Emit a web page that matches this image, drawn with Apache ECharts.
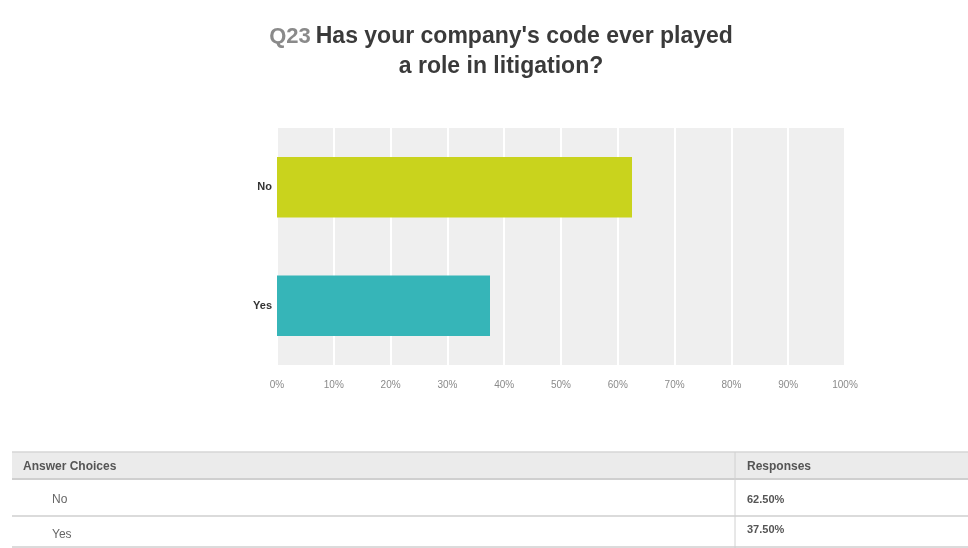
<!DOCTYPE html>
<html>
<head>
<meta charset="utf-8">
<script src="https://cdn.jsdelivr.net/npm/echarts@6/dist/echarts.min.js"></script>
<style>
  html, body { margin: 0; padding: 0; background: #ffffff; }
  #chart { width: 968px; height: 548px; }
</style>
</head>
<body>
<div id="chart"></div>
<script>
// Survey question and answers
const questionNumber = 'Q23';
const questionLines = ["Has your company's code ever played", 'a role in litigation?'];
const answerChoices = ['No', 'Yes'];
const responsePercents = [62.5, 37.5];
const answerColors = ['#c9d31d', '#36b5b8'];
const tableHeaders = ['Answer Choices', 'Responses'];

const FONT = 'Liberation Sans, Arial, sans-serif';

// Table rows beneath the chart
function buildTable() {
  const els = [];
  const left = 12, right = 968, divider = 735;
  const headerTop = 452, headerBottom = 479;
  const rowBottoms = [516, 547];
  els.push({ type: 'rect', shape: { x: left, y: headerTop, width: right - left, height: headerBottom - headerTop },
    style: { fill: '#ebebeb' } });
  const hLines = [headerTop, headerBottom].concat(rowBottoms);
  hLines.forEach(function (y, i) {
    els.push({ type: 'line', shape: { x1: left, y1: y, x2: right, y2: y },
      style: { stroke: i === 0 ? '#d6d6d6' : '#cfcfcf', lineWidth: i === 1 ? 2 : 1.5 } });
  });
  els.push({ type: 'line', shape: { x1: divider, y1: headerTop, x2: divider, y2: 548 },
    style: { stroke: '#d0d0d0', lineWidth: 1 } });
  els.push({ type: 'text', x: 23, y: (headerTop + headerBottom) / 2 + 1,
    style: { text: tableHeaders[0], font: 'bold 12px ' + FONT, fill: '#555', textVerticalAlign: 'middle' } });
  els.push({ type: 'text', x: 747, y: (headerTop + headerBottom) / 2 + 1,
    style: { text: tableHeaders[1], font: 'bold 12px ' + FONT, fill: '#555', textVerticalAlign: 'middle' } });
  const textY = [[500, 500], [535, 530]];
  answerChoices.forEach(function (name, i) {
    els.push({ type: 'text', x: 52, y: textY[i][0],
      style: { text: name, font: '12px ' + FONT, fill: '#666', textVerticalAlign: 'middle' } });
    els.push({ type: 'text', x: 747, y: textY[i][1],
      style: { text: responsePercents[i].toFixed(2) + '%', font: 'bold 11px ' + FONT, fill: '#555', textVerticalAlign: 'middle' } });
  });
  return els;
}

const chart = echarts.init(document.getElementById('chart'));
chart.setOption({
  backgroundColor: '#ffffff',
  animation: false,
  title: {
    left: 496,
    top: 17,
    textAlign: 'center',
    text: '{q|' + questionNumber + '} {b|' + questionLines[0] + '}\n{b|' + questionLines[1] + '}',
    textStyle: {
      lineHeight: 30,
      rich: {
        q: { fontFamily: FONT, fontSize: 22, color: '#8a8a8a', lineHeight: 30 },
        b: { fontFamily: FONT, fontSize: 23, fontWeight: 'bold', color: '#3a3a3a', lineHeight: 30 }
      }
    }
  },
  grid: {
    left: 277, right: 123, top: 128, bottom: 183,
    show: true, backgroundColor: '#efefef', borderWidth: 0
  },
  xAxis: {
    type: 'value', min: 0, max: 100, interval: 10,
    axisLine: { show: false }, axisTick: { show: false },
    splitLine: { show: true, lineStyle: { color: '#ffffff', width: 2 } },
    axisLabel: { formatter: '{value}%', color: '#8a8a8a', fontSize: 10, fontFamily: FONT, margin: 15 }
  },
  yAxis: {
    type: 'category', data: answerChoices, inverse: true,
    axisLine: { show: false }, axisTick: { show: false },
    axisLabel: { color: '#333333', fontSize: 11, fontWeight: 'bold', fontFamily: FONT, margin: 5 }
  },
  series: [{
    type: 'bar',
    data: responsePercents.map(function (v, i) { return { value: v, itemStyle: { color: answerColors[i] } }; }),
    barCategoryGap: '49%'
  }],
  graphic: buildTable()
});
</script>
</body>
</html>
